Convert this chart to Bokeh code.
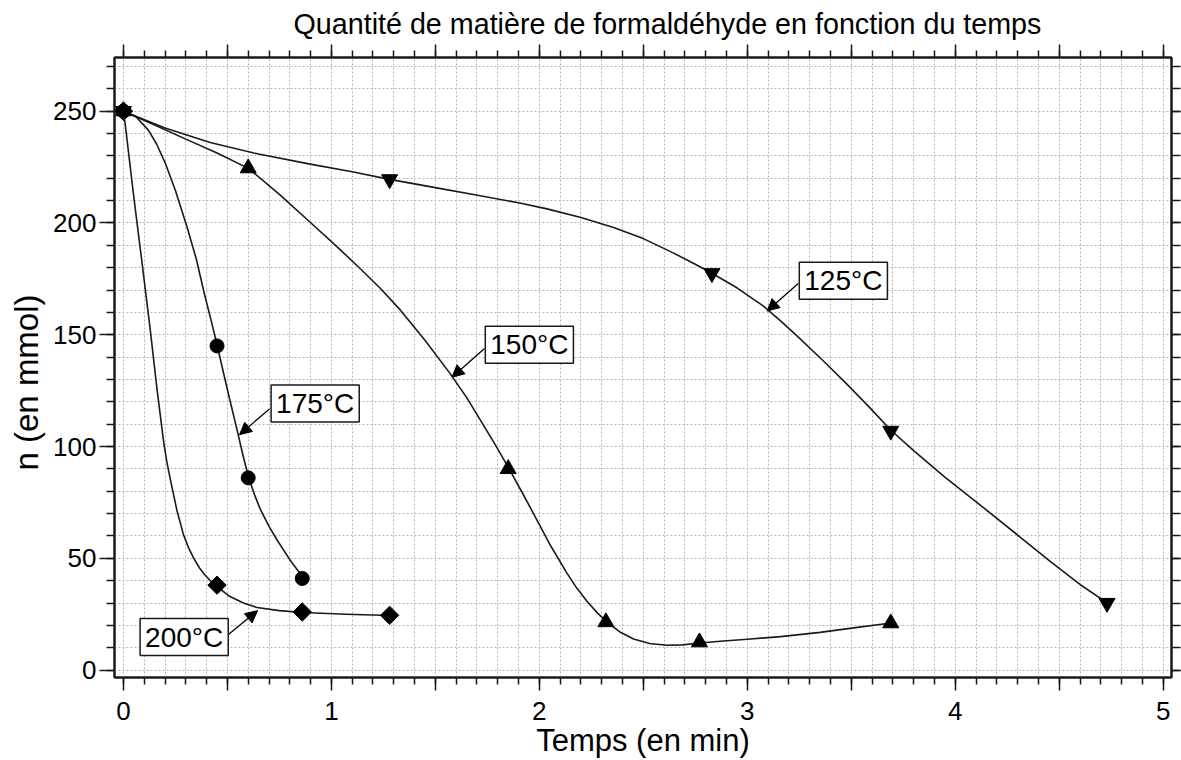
import numpy as np
from bokeh.plotting import figure
from bokeh.models import (LinearAxis, SingleIntervalTicker, Label, Arrow, NormalHead,
                          Range1d, Title, CustomJSTickFormatter)
from bokeh.embed import file_html
from bokeh.resources import INLINE

# ---- measured points (t in min, n in mmol) ----
t_125 = [0, 1.28, 2.83, 3.69, 4.73]
n_125 = [250, 219.5, 177.5, 107, 30]
t_150 = [0, 0.60, 1.85, 2.32, 2.77, 3.69]
n_150 = [250, 224.5, 90, 21.5, 12.5, 21]
t_175 = [0, 0.45, 0.60, 0.86]
n_175 = [250, 145, 86, 41]
t_200 = [0, 0.45, 0.86, 1.28]
n_200 = [250, 38, 26, 24.5]

# ---- fitted curves ----
curve_125_t = [0, 0.2, 0.417, 0.65, 0.898, 1.1, 1.28, 1.5, 1.716, 1.9, 2.037, 2.2, 2.357, 2.5, 2.646,
               2.75, 2.83, 2.95, 3.078, 3.16, 3.239, 3.36, 3.48, 3.59, 3.688, 3.8, 3.95, 4.137, 4.3,
               4.458, 4.6, 4.727]
curve_125_n = [250, 242.5, 236, 230.8, 226.3, 222.9, 219.5, 215.8, 212.2, 209, 206.3, 202.4, 198, 193,
               186.5, 181.5, 177.5, 171, 162.8, 156.2, 149.5, 138.8, 127.8, 117.3, 107.5, 98.2, 86.3,
               72.6, 60.4, 48.5, 38.3, 30.3]
curve_150_t = [0, 0.15, 0.3, 0.45, 0.601, 0.75, 0.898, 1.02, 1.139, 1.235, 1.332, 1.45, 1.572, 1.65,
               1.732, 1.79, 1.852, 1.92, 1.972, 2.05, 2.132, 2.18, 2.229, 2.28, 2.322, 2.39, 2.453,
               2.53, 2.614, 2.69, 2.771, 2.87, 3.0, 3.16, 3.35, 3.52, 3.693]
curve_150_n = [250, 243.8, 237.5, 231.3, 224.4, 212.8, 200.3, 190, 179.5, 170.8, 161, 147.5, 132.5,
               122, 109.5, 100.5, 90.5, 79, 70, 56.3, 43.5, 36.7, 30.8, 25.5, 21.8, 16.9, 13.9, 11.9,
               11.1, 11.3, 12.1, 12.9, 13.8, 15, 16.9, 19, 21.1]
curve_175_t = [0, 0.06, 0.12, 0.16, 0.2, 0.25, 0.308, 0.35, 0.39, 0.42, 0.449, 0.481, 0.51, 0.545,
               0.575, 0.601, 0.63, 0.658, 0.7, 0.738, 0.8, 0.863]
curve_175_n = [250, 247.5, 241.5, 235.2, 227, 214.5, 197.5, 184, 168, 157, 146, 133, 121.5, 108, 96,
               86.5, 78.5, 72, 64.3, 58.3, 49.4, 41.5]
curve_200_t = [0, 0.008, 0.048, 0.089, 0.128, 0.161, 0.192, 0.208, 0.225, 0.257, 0.289, 0.313, 0.337,
               0.365, 0.39, 0.418, 0.446, 0.51, 0.577, 0.642, 0.75, 0.863, 1.07, 1.283]
curve_200_n = [250, 244.5, 213, 182.5, 153, 126, 103, 93.5, 85.5, 71.5, 60.5, 54.8, 50.2, 45.8, 42.8,
               40, 37.7, 33, 30, 28, 26.6, 25.8, 25, 24.4]

labels = ["125°C", "150°C", "175°C", "200°C"]

title_text = "Quantité de matière de formaldéhyde en fonction du temps"
x_label = "Temps (en min)"
y_label = "n (en mmol)"

FONT = "Liberation Sans"
INK = "#1a1a1a"

p = figure(width=1181, height=760, x_range=Range1d(-0.043, 5.04), y_range=Range1d(-3.3, 274.0),
           output_backend="svg", toolbar_location=None,
           min_border_left=114, min_border_right=10, min_border_top=57, min_border_bottom=83)
p.title = Title(text=title_text, align="left", offset=179, text_font_size="28.7px",
                text_font=FONT, text_font_style="normal", text_color="black", standoff=10)

p.background_fill_color = "white"
p.border_fill_color = "white"
p.outline_line_color = INK
p.outline_line_width = 2

# grid
p.xgrid.ticker = SingleIntervalTicker(interval=0.1)
p.ygrid.ticker = SingleIntervalTicker(interval=10)
for g in (p.xgrid, p.ygrid):
    g.grid_line_color = "#b5b5b5"
    g.grid_line_dash = "2 2"
    g.grid_line_width = 1

def common(ax):
    ax.axis_line_color = INK
    ax.axis_line_width = 2
    ax.major_tick_line_color = INK
    ax.minor_tick_line_color = INK
    ax.major_tick_line_width = 1.5
    ax.minor_tick_line_width = 1.5
    ax.major_tick_in = 0
    ax.minor_tick_in = 0

def no_labels(ax):
    ax.major_label_text_font_size = "0px"
    ax.major_label_standoff = 0
    ax.formatter = CustomJSTickFormatter(code="return '';")

def style_x(ax, labels_on):
    common(ax)
    ax.ticker = SingleIntervalTicker(interval=0.5, num_minor_ticks=5)
    ax.major_tick_out = 13
    ax.minor_tick_out = 7
    if labels_on:
        ax.formatter = CustomJSTickFormatter(
            code="return (Math.abs(tick - Math.round(tick)) < 1e-6) ? Math.round(tick).toString() : '';")
        ax.major_label_text_font_size = "26px"
        ax.major_label_text_font = FONT
        ax.major_label_text_color = "black"
        ax.major_label_standoff = 11
    else:
        no_labels(ax)

def style_y(ax, labels_on, major_len, minor_len):
    common(ax)
    ax.ticker = SingleIntervalTicker(interval=50, num_minor_ticks=5)
    ax.major_tick_out = major_len
    ax.minor_tick_out = minor_len
    if labels_on:
        ax.major_label_text_font_size = "26px"
        ax.major_label_text_font = FONT
        ax.major_label_text_color = "black"
        ax.major_label_standoff = 3
    else:
        no_labels(ax)

style_x(p.xaxis[0], True)
style_y(p.yaxis[0], True, 15, 8)
p.xaxis[0].axis_label = x_label
p.xaxis[0].axis_label_text_font = FONT
p.xaxis[0].axis_label_text_font_style = "normal"
p.xaxis[0].axis_label_text_color = "black"
p.xaxis[0].axis_label_text_font_size = "31px"
p.xaxis[0].axis_label_standoff = 0

# y-axis title, placed lower than the frame centre as in the original
p.add_layout(Title(text=y_label, align="left", offset=207, text_font=FONT,
                   text_font_size="33px", text_font_style="normal", text_color="black",
                   standoff=11), "left")

top = LinearAxis()
style_x(top, False)
p.add_layout(top, "above")
right = LinearAxis()
style_y(right, False, 9, 9)
p.add_layout(right, "right")

# curves
for ct, cn in ((curve_125_t, curve_125_n), (curve_150_t, curve_150_n),
               (curve_175_t, curve_175_n), (curve_200_t, curve_200_n)):
    p.line(ct, cn, line_color=INK, line_width=1.6, line_join="round")

# markers
p.scatter(t_125, n_125, marker="inverted_triangle", size=16, color="black")
p.scatter(t_150, n_150, marker="triangle", size=16, color="black")
p.scatter(t_175, n_175, marker="circle", size=14, color="black")
p.scatter(t_200, n_200, marker="square", angle=np.pi / 4, size=13, color="black")

# annotations: (label centre, arrow tail, arrow tip) in data units
notes = [
    (labels[0], (3.462, 174.1), (3.245, 172.9), (3.095, 160.6)),
    (labels[1], (1.952, 145.5), (1.735, 143.7), (1.580, 131.0)),
    (labels[2], (0.922, 119.2), (0.702, 116.8), (0.558, 105.3)),
    (labels[3], (0.292, 14.8), (0.505, 15.9), (0.645, 26.6)),
]
for txt, (lx, ly), (ax0, ay0), (ax1, ay1) in notes:
    p.add_layout(Arrow(end=NormalHead(size=12, fill_color="black", line_color="black", line_width=1),
                       x_start=ax0, y_start=ay0, x_end=ax1, y_end=ay1,
                       line_color="black", line_width=1.3))
    p.add_layout(Label(x=lx, y=ly, text=txt, text_align="center", text_baseline="middle",
                       text_font=FONT, text_font_size="28px", text_color="black",
                       background_fill_color="white", border_line_color=INK,
                       border_line_width=1.5, padding=(5, 3)))

open("out.html", "w").write(file_html(p, INLINE))
